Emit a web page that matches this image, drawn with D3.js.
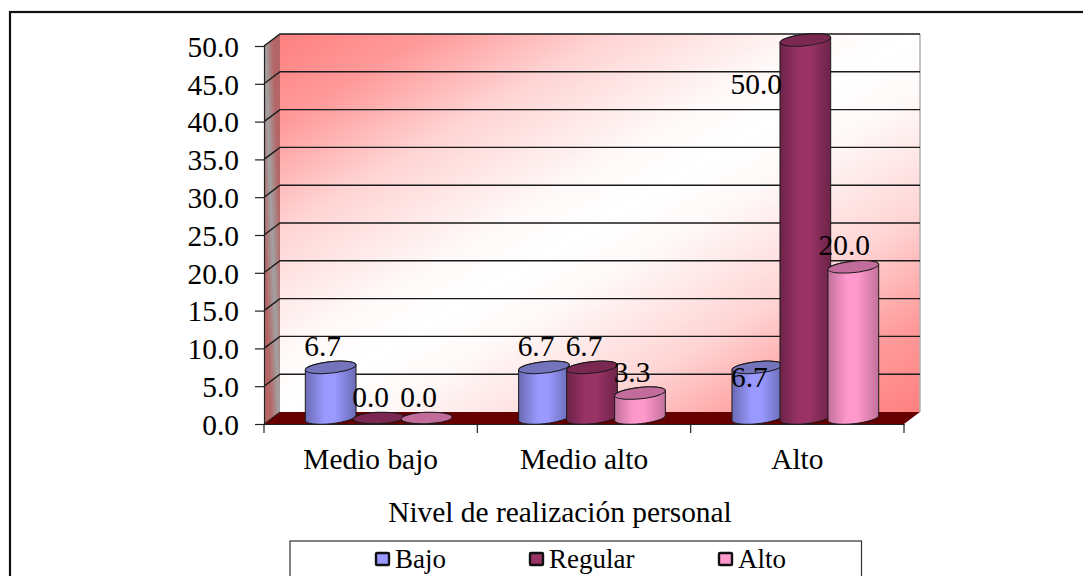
<!DOCTYPE html>
<html>
<head>
<meta charset="utf-8">
<script src="https://cdn.jsdelivr.net/npm/d3@7/dist/d3.min.js"></script>
<style>
  html, body { margin: 0; padding: 0; background: #fff; overflow: hidden; }
  text { font-family: "Liberation Serif", "Times New Roman", serif; fill: #000; }
</style>
</head>
<body>
<svg id="chart" width="1083" height="576"></svg>
<script>
// Chart values
const categories = ["Medio bajo", "Medio alto", "Alto"];
const seriesNames = ["Bajo", "Regular", "Alto"];
const bajoValues = [6.7, 6.7, 6.7];
const regularValues = [0, 6.7, 50];
const altoValues = [0, 3.3, 20];
const yTicks = [0, 5, 10, 15, 20, 25, 30, 35, 40, 45, 50];
const axisTitle = "Nivel de realización personal";

const seriesValues = [bajoValues, regularValues, altoValues];
const bodyColors = ["#9999ff", "#993366", "#ff99cc"];
const edgeColors = ["#6a6ab4", "#6e2349", "#c2709c"];
const capColors = ["#7474bd", "#7a2851", "#c26c9b"];

// Plot box and the oblique depth of the 3D walls
const plot = { left: 264, right: 904, top: 46, bottom: 424 };
const depthX = 16, depthY = 12;
const labelSize = 29.4;
const legendSize = 27;

const svg = d3.select("#chart");
const defs = svg.append("defs");

const y = d3.scaleLinear().domain([0, 50]).range([plot.bottom, plot.top]);
const x0 = d3.scaleBand().domain(categories).range([plot.left, plot.right]);
const x1 = d3.scaleBand().domain(seriesNames).range([-72, 72]);

const backTop = y(50) - depthY, backBottom = y(0) - depthY;
const backLeft = plot.left + depthX, backRight = plot.right + depthX;
const sideMid = plot.left + depthX / 2;
const sideMidY = (backTop + plot.bottom) / 2;

// Gradients
function addStops(g, stops) {
  stops.forEach(([o, c, a]) => g.append("stop")
    .attr("offset", o).attr("stop-color", c).attr("stop-opacity", a === undefined ? 1 : a));
}
addStops(defs.append("linearGradient").attr("id", "wallFill")
  .attr("x1", 0).attr("y1", 0).attr("x2", 1).attr("y2", 1), [
  [0, "#ff8080"], [0.12, "#ff9a9a"], [0.26, "#ffd4d4"], [0.42, "#fff8f8"], [0.5, "#ffffff"],
  [0.58, "#fff8f8"], [0.74, "#ffd4d4"], [0.88, "#ff9a9a"], [1, "#ff8080"]
]);

// The side wall is grey, warming towards its upper-right and lower-left corners
function sideGlow(id, fromX, toX, slant) {
  addStops(defs.append("linearGradient").attr("id", id)
    .attr("gradientUnits", "userSpaceOnUse")
    .attr("x1", fromX).attr("y1", sideMidY).attr("x2", toX).attr("y2", sideMidY + slant), [
    [0, "#c04040", 0], [1, "#c04040", 0.62]
  ]);
}
sideGlow("sideGlowTop", sideMid, backLeft, -0.3);
sideGlow("sideGlowBottom", sideMid, plot.left, 0.3);

seriesNames.forEach((s, i) => {
  addStops(defs.append("linearGradient").attr("id", "cyl" + i)
    .attr("x1", 0).attr("y1", 0).attr("x2", 1).attr("y2", 0), [
    [0, edgeColors[i]], [0.38, bodyColors[i]], [0.58, bodyColors[i]], [1, edgeColors[i]]
  ]);
});

// Outer frame, running off the right and bottom of the page
svg.append("rect")
  .attr("x", 10).attr("y", 12).attr("width", 1200).attr("height", 700)
  .attr("fill", "#fff").attr("stroke", "#111").attr("stroke-width", 2.2);

// Walls and floor
svg.append("rect")
  .attr("x", backLeft).attr("y", backTop)
  .attr("width", backRight - backLeft).attr("height", backBottom - backTop)
  .attr("fill", "url(#wallFill)");

const sidePoints = [[plot.left, y(50)], [backLeft, backTop], [backLeft, backBottom], [plot.left, y(0)]].join(" ");
svg.append("polygon").attr("points", sidePoints).attr("fill", "#a2a2a2");
svg.append("polygon").attr("points", sidePoints).attr("fill", "url(#sideGlowTop)");
svg.append("polygon").attr("points", sidePoints).attr("fill", "url(#sideGlowBottom)");

svg.append("polygon")
  .attr("points", [[plot.left, y(0)], [plot.right, y(0)], [backRight, backBottom], [backLeft, backBottom]].join(" "))
  .attr("fill", "#660000");

svg.append("line")
  .attr("x1", backRight).attr("x2", backRight)
  .attr("y1", backTop).attr("y2", backBottom)
  .attr("stroke", "#b0b0b0").attr("stroke-width", 1.5);

// Gridlines wrap from the side wall onto the back wall
svg.append("g").selectAll("path").data(yTicks.filter(t => t > 0)).join("path")
  .attr("d", t => `M${plot.left},${y(t)}L${backLeft},${y(t) - depthY}L${backRight},${y(t) - depthY}`)
  .attr("fill", "none").attr("stroke", "#1a1a1a").attr("stroke-width", 1.4);

svg.append("path")
  .attr("d", `M${plot.left},${y(0)}L${backLeft},${backBottom}`)
  .attr("fill", "none").attr("stroke", "#1a1a1a").attr("stroke-width", 1);

// Axes
const yAxis = svg.append("g")
  .attr("transform", `translate(${plot.left},0)`)
  .call(d3.axisLeft(y).tickValues(yTicks).tickFormat(d3.format(".1f")).tickSize(9).tickPadding(16));
yAxis.selectAll("text").attr("dy", "0.35em");
const xAxis = svg.append("g")
  .attr("transform", `translate(0,${plot.bottom})`)
  .call(d3.axisBottom(x0).tickSize(0).tickPadding(24));

xAxis.selectAll(".tick line").remove();
xAxis.append("g").selectAll("line").data([0, 1, 2, 3]).join("line")
  .attr("x1", i => plot.left + i * x0.step()).attr("x2", i => plot.left + i * x0.step())
  .attr("y1", 0).attr("y2", 9).attr("stroke", "#222").attr("stroke-width", 1.2);

[yAxis, xAxis].forEach(a => {
  a.selectAll("text").style("font-family", '"Liberation Serif", serif')
    .style("font-size", labelSize + "px").attr("fill", "#000");
  a.selectAll(".domain").attr("stroke", "#222").attr("stroke-width", 1.2);
  a.selectAll(".tick line").attr("stroke", "#222").attr("stroke-width", 1.2);
});

// Cylinders, drawn group by group so later bars sit over earlier ones
const rx = 25.5, ry = 5.7, tilt = 6, flatTilt = 2.5;
const tiltX = rx * Math.cos(tilt * Math.PI / 180);
const tiltY = rx * Math.sin(tilt * Math.PI / 180);

const cells = [];
categories.forEach((c, ci) => seriesNames.forEach((s, si) => {
  cells.push({
    category: c, series: s, si,
    value: seriesValues[si][ci],
    cx: x0(c) + x0.bandwidth() / 2 + x1(s) + x1.bandwidth() / 2 + depthX / 2,
    cy: y(seriesValues[si][ci]) - depthY / 2
  });
}));

const baseY = y(0) - depthY / 2;
const bars = svg.append("g").selectAll("g").data(cells).join("g");

bars.filter(d => d.value > 0).append("path")
  .attr("d", d =>
    `M${d.cx - tiltX},${d.cy + tiltY}` +
    `L${d.cx - tiltX},${baseY + tiltY}` +
    `A${rx},${ry} ${-tilt} 0 0 ${d.cx + tiltX},${baseY - tiltY}` +
    `L${d.cx + tiltX},${d.cy - tiltY}` +
    `A${rx},${ry} ${-tilt} 0 0 ${d.cx - tiltX},${d.cy + tiltY}Z`)
  .attr("fill", d => `url(#cyl${d.si})`)
  .attr("stroke", "#1a1a1a").attr("stroke-width", 1);

// Empty bars collapse to a nearly flat disc on the floor
bars.append("ellipse")
  .attr("rx", rx).attr("ry", ry)
  .attr("transform", d => `translate(${d.cx},${d.cy}) rotate(${d.value > 0 ? -tilt : -flatTilt})`)
  .attr("fill", d => capColors[d.si])
  .attr("stroke", "#1a1a1a").attr("stroke-width", 1);

// Value labels; two sit away from their bars so they stay clear of the tall cylinder
const labelNudge = { "Alto|Regular": [-41, 65], "Alto|Bajo": [0, 31], "Alto|Alto": [-1, 0] };
svg.append("g").selectAll("text").data(cells).join("text")
  .attr("x", d => d.cx - depthX / 2 + (labelNudge[d.category + "|" + d.series] || [0, 0])[0])
  .attr("y", d => d.cy - 11.5 + (labelNudge[d.category + "|" + d.series] || [0, 0])[1])
  .attr("text-anchor", "middle")
  .style("font-size", labelSize + "px")
  .text(d => d3.format(".1f")(d.value));

// Axis title
svg.append("text")
  .attr("x", 560).attr("y", 522).attr("text-anchor", "middle")
  .style("font-size", labelSize + "px").text(axisTitle);

// Legend box, cut off by the bottom of the page
svg.append("rect")
  .attr("x", 290).attr("y", 541).attr("width", 571.5).attr("height", 80)
  .attr("fill", "#fff").attr("stroke", "#333").attr("stroke-width", 1.2);

const legendX = d3.scaleOrdinal().domain(seriesNames).range([376, 530, 719]);
const legend = svg.append("g").selectAll("g").data(seriesNames).join("g")
  .attr("transform", s => `translate(${legendX(s)},553)`);
legend.append("rect")
  .attr("width", 13).attr("height", 12).attr("rx", 1)
  .attr("fill", (s, i) => bodyColors[i])
  .attr("stroke", "#111").attr("stroke-width", 2.4);
legend.append("text")
  .attr("x", 19).attr("y", 15)
  .style("font-size", legendSize + "px").text(s => s);
</script>
</body>
</html>
